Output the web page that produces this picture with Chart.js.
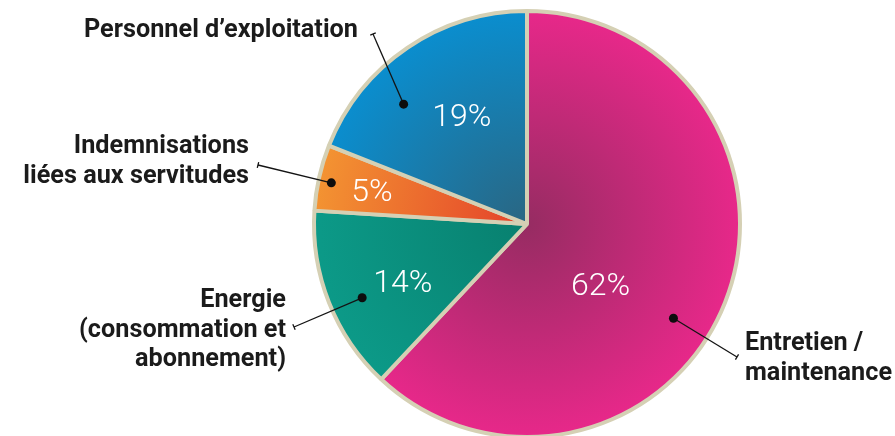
<!DOCTYPE html>
<html>
<head>
<meta charset="utf-8">
<script src="https://cdn.jsdelivr.net/npm/chart.js@4.4.1/dist/chart.umd.min.js"></script>
<style>
  html, body { margin: 0; padding: 0; background: #fff; overflow: hidden; }
  #wrap { width: 895px; height: 440px; }
</style>
</head>
<body>
<div id="wrap"><canvas id="chart" width="895" height="440"></canvas></div>
<script>
// --- Data ---
const categories = ['Entretien / maintenance', 'Energie (consommation et abonnement)', 'Indemnisations liées aux servitudes', 'Personnel d’exploitation'];
const shares = [62, 14, 5, 19];
const labelLines = [
    ['Entretien /', 'maintenance'],
    ['Energie', '(consommation et', 'abonnement)'],
    ['Indemnisations', 'liées aux servitudes'],
    ['Personnel d’exploitation']
];
// inner (near centre) / outer colour of each slice
const innerColors = ['#962c62', '#08806f', '#e4412a', '#2a6682'];
const outerColors = ['#e8288a', '#0c9a88', '#f39432', '#0a8ecf'];

// --- Callout layout (t = fraction along the arc, r = fraction of radius) ---
const callouts = [
    { dot: { t: 0.55, r: 0.81 }, pct: { t: 0.585, r: 0.45 }, tick: [737, 357], text: [745, 350], align: 'left' },
    { dot: { t: 0.45, r: 0.84 }, pct: { t: 0.42, r: 0.64 }, tick: [294, 327], text: [286, 307], align: 'right' },
    { dot: { t: 0.46, r: 0.93 }, pct: { t: 0.43, r: 0.735 }, tick: [258, 165], text: [249, 153], align: 'right' },
    { dot: { t: 0.33, r: 0.80 }, pct: { t: 0.54, r: 0.58 }, tick: [373, 34], text: [358, 37], align: 'right' }
];

const LINE_H = 29.5;
const TEXT_SCALE = 1.01;

function sliceFill(context) {
    const chart = context.chart;
    const area = chart.chartArea;
    const i = context.dataIndex;
    if (!area) return outerColors[i];
    const cx = (area.left + area.right) / 2;
    const cy = (area.top + area.bottom) / 2;
    const r = Math.min(area.right - area.left, area.bottom - area.top) / 2;
    const g = chart.ctx.createRadialGradient(cx, cy, 0, cx, cy, r);
    g.addColorStop(0, innerColors[i]);
    g.addColorStop(1, outerColors[i]);
    return g;
}

const calloutPlugin = {
    id: 'callouts',
    afterDatasetsDraw(chart) {
        const ctx = chart.ctx;
        const meta = chart.getDatasetMeta(0);
        meta.data.forEach((arc, i) => {
            const p = arc.getProps(['x', 'y', 'startAngle', 'endAngle', 'outerRadius'], true);
            const R = p.outerRadius + 2;
            const at = (o) => {
                const a = p.startAngle + (p.endAngle - p.startAngle) * o.t;
                return [p.x + Math.cos(a) * R * o.r, p.y + Math.sin(a) * R * o.r];
            };
            const c = callouts[i];

            // percentage
            const pp = at(c.pct);
            ctx.save();
            ctx.fillStyle = '#ffffff';
            ctx.font = '300 32px Roboto';
            ctx.textAlign = 'center';
            ctx.textBaseline = 'middle';
            ctx.fillText(shares[i] + '%', pp[0], pp[1]);
            ctx.restore();

            // leader line with dot and end tick
            const d = at(c.dot);
            const [tx, ty] = c.tick;
            ctx.save();
            ctx.strokeStyle = '#141414';
            ctx.fillStyle = '#0d0d0d';
            ctx.lineWidth = 1.3;
            ctx.beginPath();
            ctx.moveTo(d[0], d[1]);
            ctx.lineTo(tx, ty);
            ctx.stroke();
            const len = Math.hypot(tx - d[0], ty - d[1]);
            const nx = -(ty - d[1]) / len * 3, ny = (tx - d[0]) / len * 3;
            ctx.beginPath();
            ctx.moveTo(tx + nx, ty + ny);
            ctx.lineTo(tx - nx, ty - ny);
            ctx.stroke();
            ctx.beginPath();
            ctx.arc(d[0], d[1], 4.5, 0, Math.PI * 2);
            ctx.fill();

            // category text
            ctx.fillStyle = '#1b1b1b';
            ctx.font = 'bold 25px Roboto';
            ctx.textBaseline = 'alphabetic';
            ctx.textAlign = c.align;
            labelLines[i].forEach((line, k) => {
                ctx.save();
                ctx.translate(c.text[0], c.text[1] + k * LINE_H);
                ctx.scale(TEXT_SCALE, 1);
                ctx.fillText(line, 0, 0);
                ctx.restore();
            });
            ctx.restore();
        });
    }
};

new Chart(document.getElementById('chart').getContext('2d'), {
    type: 'pie',
    data: {
        labels: categories,
        datasets: [{
            data: shares,
            backgroundColor: sliceFill,
            borderColor: '#d5d0b4',
            borderWidth: 4,
            hoverOffset: 0
        }]
    },
    options: {
        responsive: false,
        animation: false,
        layout: { padding: { left: 312, right: 153, top: 9, bottom: 1 } },
        plugins: {
            legend: { display: false },
            tooltip: { enabled: false }
        }
    },
    plugins: [calloutPlugin]
});
</script>
</body>
</html>
